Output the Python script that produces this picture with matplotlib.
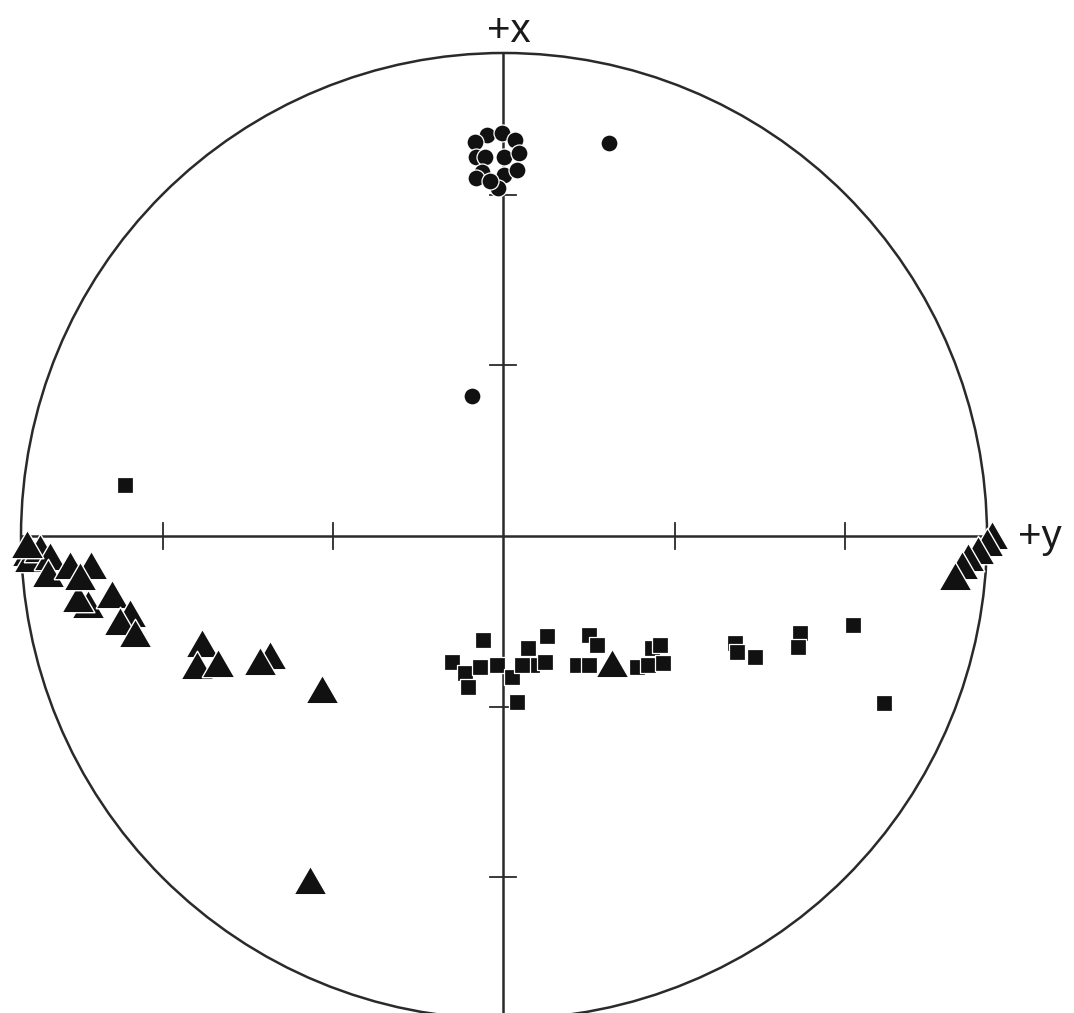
import matplotlib.pyplot as plt
from matplotlib.patches import Circle
import numpy as np

# pole positions on the unit net (x right = +y, up = +x)
circ_x = [-0.036, -0.005, 0.023, -0.060, -0.057, -0.039, -0.001, 0.030,
          -0.046, -0.001, 0.026, -0.012, -0.057, -0.029, 0.218, -0.066]
circ_y = [0.830, 0.834, 0.820, 0.816, 0.785, 0.785, 0.785, 0.792,
          0.754, 0.747, 0.758, 0.720, 0.741, 0.734, 0.813, 0.290]

sq_x = [-0.785, -0.108, -0.043, -0.081, -0.074, -0.050, -0.015, 0.016, 0.026,
        0.050, 0.057, 0.085, 0.088, 0.037, 0.175, 0.192, 0.151, 0.175,
        0.275, 0.299, 0.306, 0.323, 0.330, 0.478, 0.482, 0.520, 0.613,
        0.609, 0.723, 0.787]
sq_y = [0.106, -0.260, -0.215, -0.284, -0.312, -0.271, -0.267, -0.291, -0.343,
        -0.232, -0.267, -0.260, -0.208, -0.267, -0.205, -0.226, -0.267, -0.267,
        -0.271, -0.267, -0.232, -0.226, -0.264, -0.222, -0.240, -0.250, -0.201,
        -0.229, -0.184, -0.345]

tri_x = [-0.861, -0.882, -0.986, -0.981, -0.961, -0.940, -0.988, -0.944,
         -0.899, -0.855, -0.878, -0.812, -0.774, -0.795, -0.764, -0.625,
         -0.636, -0.592, -0.484, -0.505, -0.377, -0.402, 0.224,
         1.010, 1.000, 0.981, 0.961, 0.948, 0.934]
tri_y = [-0.141, -0.128, -0.033, -0.046, -0.025, -0.041, -0.017, -0.077,
         -0.060, -0.060, -0.083, -0.120, -0.159, -0.176, -0.201, -0.222,
         -0.267, -0.263, -0.246, -0.259, -0.317, -0.712, -0.263,
         0.002, -0.012, -0.029, -0.043, -0.060, -0.083]

tick_pos = [0.355, 0.705]

fig = plt.figure(figsize=(10.74, 10.13), dpi=100)
ax = fig.add_axes([0, 0, 1, 1])
ax.set_xlim(-1.0435, 1.1801)
ax.set_ylim(-0.9876, 1.1097)
ax.set_aspect('equal')
ax.axis('off')

lc = '#2a2a2a'
ax.add_patch(Circle((0, 0), 1.0, fill=False, ec=lc, lw=1.8, clip_on=False))
ax.plot([-1, 1], [0, 0], color=lc, lw=1.8)
ax.plot([-0.003, -0.003], [-1.1, 1], color=lc, lw=1.8)
for t in tick_pos:
    for s in (-1, 1):
        ax.plot([s * t, s * t], [-0.027, 0.027], color=lc, lw=1.3)
        ax.plot([-0.03, 0.024], [s * t, s * t], color=lc, lw=1.3)

# equilateral triangle marker, centred at mid-height
tri = [(-1, -0.866), (1, -0.866), (0, 0.866), (-1, -0.866)]

ax.scatter(sq_x, sq_y, marker='s', s=120, c='#111111', edgecolors='white',
           linewidths=0.9, zorder=3)
ax.scatter(circ_x, circ_y, marker='o', s=150, c='#111111', edgecolors='white',
           linewidths=0.9, zorder=3)
ax.scatter(tri_x, tri_y, marker=tri, s=560, c='#111111', edgecolors='white',
           linewidths=1.0, zorder=4)

ax.text(0.01, 1.045, '+x', ha='center', va='center', fontsize=29,
        family='Liberation Sans', color='#1a1a1a')
ax.text(1.11, -0.002, '+y', ha='center', va='center', fontsize=29,
        family='Liberation Sans', color='#1a1a1a')

fig.savefig('out.png', dpi=100, facecolor='white')
